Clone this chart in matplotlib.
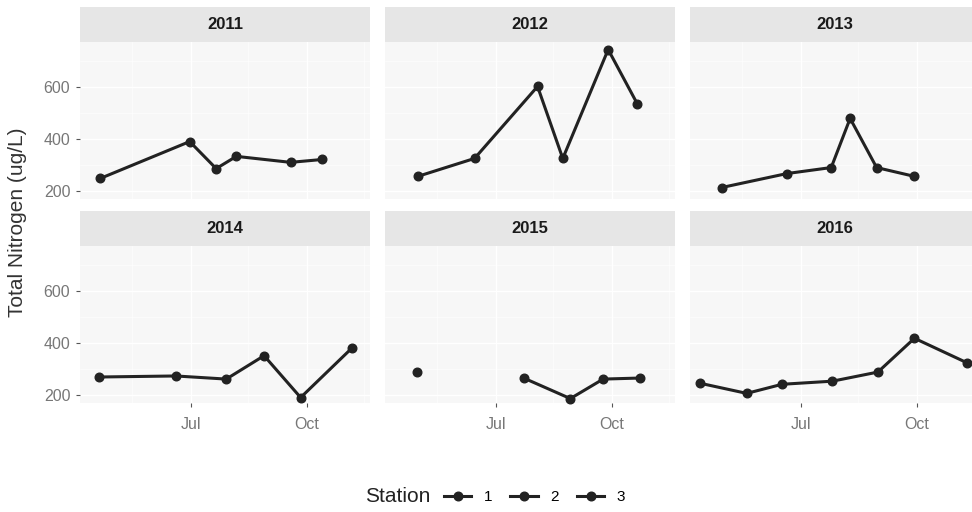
import pandas as pd
import matplotlib
matplotlib.use('Agg')
import matplotlib.pyplot as plt
import matplotlib.dates as mdates
from matplotlib.lines import Line2D

plt.rcParams['font.family'] = ['Liberation Sans', 'DejaVu Sans']

# Total nitrogen samples by year: sampling date, value (ug/L), station
years = [2011, 2012, 2013, 2014, 2015, 2016]

dates_2011 = ['2011-04-20', '2011-06-30', '2011-07-21', '2011-08-06', '2011-09-18', '2011-10-13']
tn_2011 = [250, 392, 288, 335, 312, 323]
st_2011 = [1, 1, 1, 1, 1, 1]

dates_2012 = ['2012-04-30', '2012-06-14', '2012-08-03', '2012-08-23', '2012-09-28', '2012-10-21']
tn_2012 = [258, 327, 604, 327, 746, 538]
st_2012 = [1, 1, 1, 1, 1, 1]

dates_2013 = ['2013-04-29', '2013-06-20', '2013-07-25', '2013-08-09', '2013-08-30', '2013-09-29']
tn_2013 = [215, 269, 292, 481, 292, 258]
st_2013 = [1, 1, 1, 1, 1, 1]

dates_2014 = ['2014-04-19', '2014-06-19', '2014-07-29', '2014-08-28', '2014-09-26', '2014-11-06']
tn_2014 = [271, 275, 263, 353, 192, 384]
st_2014 = [1, 1, 1, 1, 1, 1]

dates_2015 = ['2015-04-29', '2015-07-23', '2015-08-29', '2015-09-24', '2015-10-23']
tn_2015 = [290, 267, 188, 263, 267]
st_2015 = [2, 1, 1, 1, 1]

dates_2016 = ['2016-04-12', '2016-05-19', '2016-06-16', '2016-07-26', '2016-08-31', '2016-09-29', '2016-11-10']
tn_2016 = [247, 208, 243, 255, 290, 420, 325]
st_2016 = [1, 1, 1, 1, 1, 1, 1]

stations = [1, 2, 3]

frames = []
for yr, d, v, s in [(2011, dates_2011, tn_2011, st_2011), (2012, dates_2012, tn_2012, st_2012),
                    (2013, dates_2013, tn_2013, st_2013), (2014, dates_2014, tn_2014, st_2014),
                    (2015, dates_2015, tn_2015, st_2015), (2016, dates_2016, tn_2016, st_2016)]:
    frames.append(pd.DataFrame({'year': yr, 'date': pd.to_datetime(d), 'tn': v, 'station': s}))
df = pd.concat(frames, ignore_index=True)
# put every year on a common calendar so panels share the month axis
df['doy'] = df['date'].apply(lambda t: t.replace(year=2001))

W, H = 972, 512
fig = plt.figure(figsize=(W / 100, H / 100), dpi=100)

col_left = [80, 385, 690]
panel_w = 290
rows = [(42, 199), (246, 403)]
strip_h = 35

xlim = (pd.Timestamp('2001-04-04'), pd.Timestamp('2001-11-20'))
ylim = (171, 775)

def box(x0, top, w, h):
    return [x0 / W, 1 - (top + h) / H, w / W, h / H]

for i, yr in enumerate(years):
    r, c = divmod(i, 3)
    top, bot = rows[r]
    ax = fig.add_axes(box(col_left[c], top, panel_w, bot - top))
    ax.set_facecolor('#f7f7f7')
    for sp in ax.spines.values():
        sp.set_visible(False)
    ax.set_xlim(*xlim)
    ax.set_ylim(*ylim)
    ax.set_yticks([200, 400, 600])
    ax.set_yticks([300, 500, 700], minor=True)
    ax.xaxis.set_major_locator(mdates.MonthLocator(bymonth=[7, 10]))
    ax.xaxis.set_major_formatter(mdates.DateFormatter('%b'))
    ax.xaxis.set_minor_locator(mdates.MonthLocator(bymonth=[5, 8, 11], bymonthday=15))
    ax.grid(True, which='major', color='white', lw=0.9)
    ax.grid(True, which='minor', color='white', lw=0.4)
    ax.set_axisbelow(True)
    ax.tick_params(which='major', length=3, width=0.8, color='#555555',
                   labelsize=11.5, labelcolor='#777777')
    ax.tick_params(axis='y', pad=4)
    ax.tick_params(axis='x', pad=7)
    ax.tick_params(which='minor', length=0)
    if c != 0:
        ax.tick_params(axis='y', left=False, labelleft=False)
    if r == 0:
        ax.tick_params(axis='x', bottom=False, labelbottom=False)

    sub = df[df['year'] == yr]
    for st in stations:
        g = sub[sub['station'] == st].sort_values('doy')
        if len(g) == 0:
            continue
        ax.plot(g['doy'], g['tn'], '-o', color='#222222', lw=2.2, ms=6.2, clip_on=False)

    sax = fig.add_axes(box(col_left[c], top - strip_h, panel_w, strip_h))
    sax.set_facecolor('#e6e6e6')
    sax.set_xticks([])
    sax.set_yticks([])
    for sp in sax.spines.values():
        sp.set_visible(False)
    sax.text(0.5, 0.5, str(yr), ha='center', va='center', fontsize=12,
             fontweight='bold', color='#1a1a1a', transform=sax.transAxes)

fig.text(18 / W, 1 - 222 / H, 'Total Nitrogen (ug/L)', rotation=90, ha='center',
         va='center', fontsize=15, color='#333333')

# legend along the bottom
fig.text(365 / W, 1 - 497 / H, 'Station', ha='left', va='center', fontsize=15, color='#222222')
handles = [Line2D([], [], color='#222222', lw=2.2, marker='o', ms=6.2) for _ in stations]
fig.legend(handles, [str(s) for s in stations], ncol=3, frameon=False,
           loc='center left', bbox_to_anchor=(430 / W, 1 - 497 / H),
           fontsize=11, handlelength=1.8, handletextpad=0.8, columnspacing=1.2)

fig.savefig('out.png', dpi=100)
